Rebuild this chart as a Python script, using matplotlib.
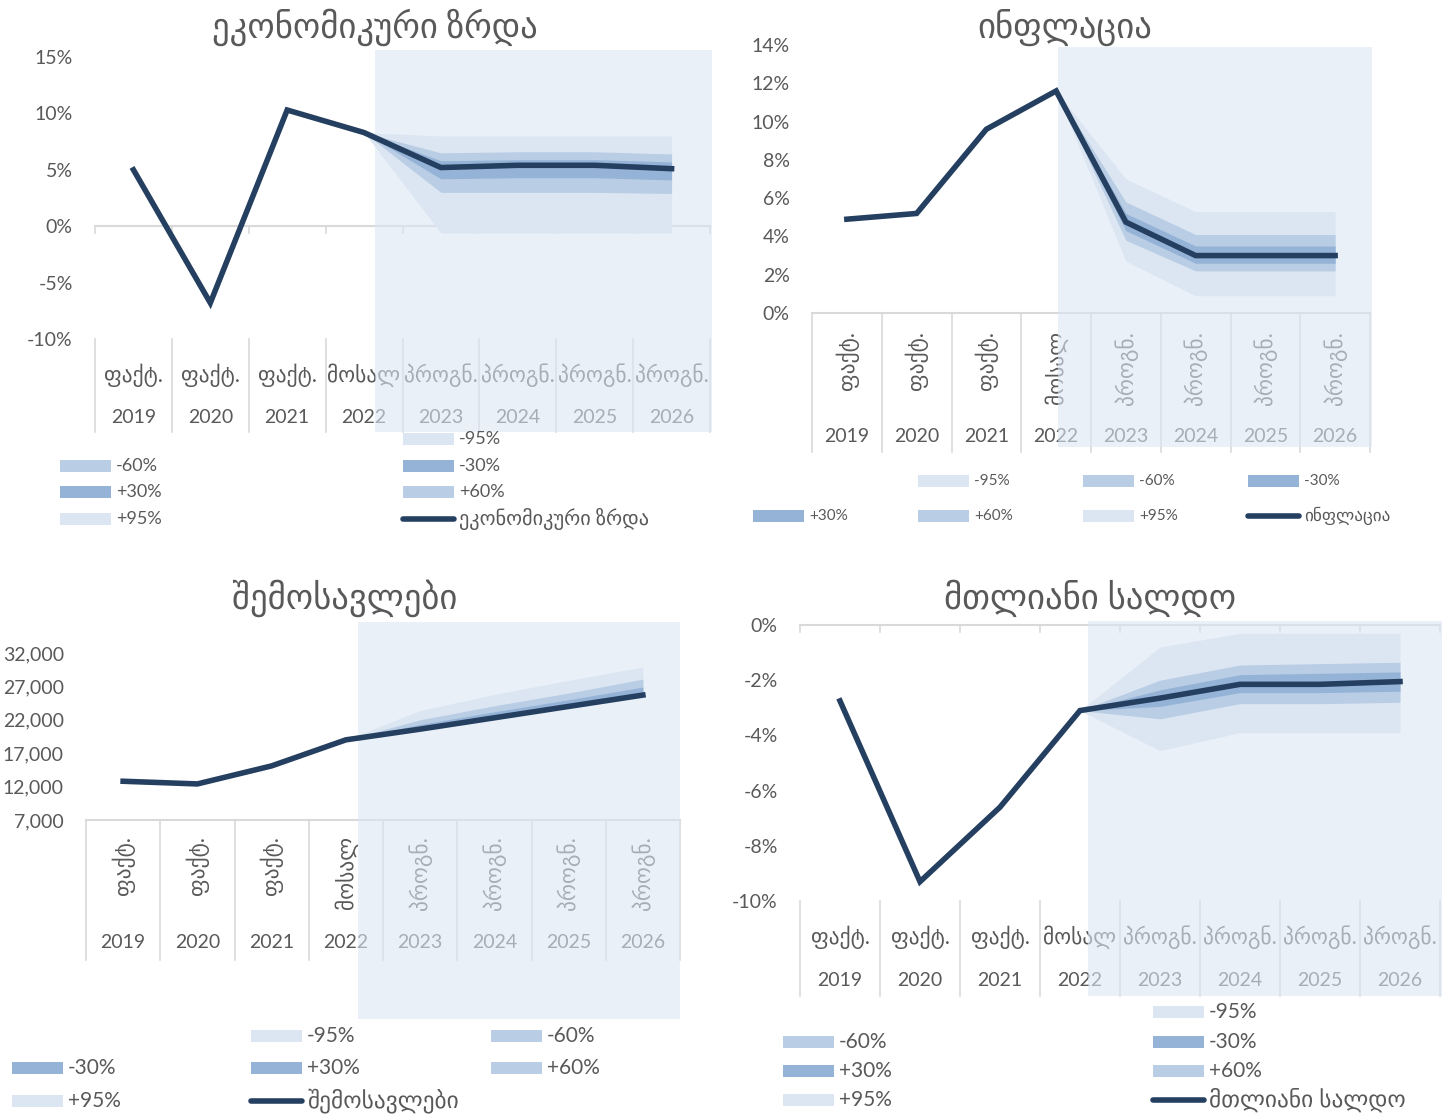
import matplotlib
matplotlib.use("Agg")
import matplotlib.pyplot as plt
import matplotlib.transforms as mtransforms
from matplotlib.patches import Rectangle
from matplotlib.lines import Line2D
from matplotlib.ticker import FuncFormatter

plt.rcParams['font.family'] = ['Lato', 'DejaVu Sans']

W, H = 1449, 1117
NAVY = '#243F60'
GREY = '#595959'
GRID = '#D9D9D9'
C95, C60, C30 = '#DCE6F2', '#B9CDE5', '#95B3D7'

years = ['2019', '2020', '2021', '2022', '2023', '2024', '2025', '2026']
stage = ['ფაქტ.', 'ფაქტ.', 'ფაქტ.', 'მოსალ', 'პროგნ.', 'პროგნ.', 'პროგნ.', 'პროგნ.']
fc_idx = [3, 4, 5, 6, 7]   # 2022..2026 carry the fan

# economic growth, %
growth = [5.0, -6.8, 10.3, 8.3, 5.2, 5.4, 5.4, 5.1]
growth_hi95 = [8.3, 8.0, 8.0, 8.0, 8.0]
growth_hi60 = [8.3, 6.5, 6.6, 6.6, 6.4]
growth_hi30 = [8.3, 5.8, 5.9, 5.9, 5.7]
growth_lo30 = [8.3, 4.2, 4.3, 4.3, 4.1]
growth_lo60 = [8.3, 3.0, 3.0, 3.0, 2.9]
growth_lo95 = [8.3, -0.6, -0.6, -0.6, -0.6]

# inflation, %
infl = [4.9, 5.2, 9.6, 11.6, 4.75, 3.0, 3.0, 3.0]
infl_hi95 = [11.6, 7.0, 5.3, 5.3, 5.3]
infl_hi60 = [11.6, 5.8, 4.1, 4.1, 4.1]
infl_hi30 = [11.6, 5.2, 3.5, 3.5, 3.5]
infl_lo30 = [11.6, 4.3, 2.6, 2.6, 2.6]
infl_lo60 = [11.6, 3.8, 2.2, 2.2, 2.2]
infl_lo95 = [11.6, 2.7, 0.9, 0.9, 0.9]

# revenues, mln GEL
rev = [12800, 12400, 15100, 19000, 20600, 22300, 24000, 25700]
rev_hi95 = [19000, 23400, 25800, 27900, 29900]
rev_hi60 = [19000, 22000, 24100, 26000, 28100]
rev_hi30 = [19000, 21300, 23200, 25000, 26900]
rev_lo30 = [19000, 20600, 22300, 24000, 25700]
rev_lo60 = [19000, 20600, 22300, 24000, 25700]
rev_lo95 = [19000, 20600, 22300, 24000, 25700]

# overall balance, % of GDP
bal = [-2.75, -9.3, -6.6, -3.1, -2.65, -2.15, -2.15, -2.05]
bal_hi95 = [-3.1, -0.8, -0.3, -0.3, -0.3]
bal_hi60 = [-3.1, -2.0, -1.45, -1.4, -1.35]
bal_hi30 = [-3.1, -2.35, -1.8, -1.75, -1.7]
bal_lo30 = [-3.1, -2.95, -2.45, -2.45, -2.4]
bal_lo60 = [-3.1, -3.4, -2.85, -2.85, -2.8]
bal_lo95 = [-3.1, -4.55, -3.9, -3.9, -3.9]

fig = plt.figure(figsize=(W / 100, H / 100), dpi=100)


def fx(x):
    return x / W


def fy(y):
    return 1 - y / H


def px_axes(x0, y0, x1, y1):
    ax = fig.add_axes([fx(x0), fy(y1), (x1 - x0) / W, (y1 - y0) / H])
    ax.patch.set_visible(False)
    for s in ax.spines.values():
        s.set_visible(False)
    ax.set_xlim(-0.5, len(years) - 0.5)
    ax.set_xticks([])
    ax.tick_params(axis='y', length=0, pad=16, labelsize=14, labelcolor=GREY)
    return ax


def panel(ax, vals, fan, ylim, yticks, fmt, title, title_xy, shade, cat, zero=None):
    bt = mtransforms.blended_transform_factory(ax.transData, fig.transFigure)
    ax.set_ylim(*ylim)
    ax.set_yticks(yticks)
    ax.yaxis.set_major_formatter(FuncFormatter(fmt))
    fig.text(fx(title_xy[0]), fy(title_xy[1]), title, ha='center', va='center',
             fontsize=25, color=GREY)

    # category axis: separators, labels (under the shade)
    top, bottom, rotated, lab_y, year_y = cat
    n = len(years)
    for k in range(n + 1):
        ax.add_line(Line2D([k - 0.5, k - 0.5], [fy(top), fy(bottom)], transform=bt,
                           color=GRID, lw=1.2, clip_on=False, zorder=1))
    for k in range(n):
        if rotated:
            ax.text(k, fy(lab_y), stage[k], transform=bt, rotation=90, ha='center',
                    va='top', fontsize=15.5, color=GREY, zorder=1, clip_on=False)
        else:
            ax.text(k, fy(lab_y), stage[k], transform=bt, ha='center', va='center',
                    fontsize=15.5, color=GREY, zorder=1, clip_on=False)
        ax.text(k, fy(year_y), years[k], transform=bt, ha='center', va='center',
                fontsize=14, color=GREY, zorder=1, clip_on=False)

    # zero line with small downward ticks
    if zero is not None:
        ax.axhline(zero, color=GRID, lw=1.5, zorder=1, clip_on=False)
        zt = ax.transData.transform((0, zero))[1] / fig.dpi / fig.get_figheight()
        for k in range(n + 1):
            ax.add_line(Line2D([k - 0.5, k - 0.5], [zt, zt - 7 / H], transform=bt,
                               color=GRID, lw=1.2, clip_on=False, zorder=1))
    else:
        ax.axhline(ylim[0], color=GRID, lw=1.5, zorder=1, clip_on=False)

    # forecast shading
    x0, y0, x1, y1 = shade
    ax.add_patch(Rectangle((fx(x0), fy(y1)), (x1 - x0) / W, (y1 - y0) / H,
                           transform=fig.transFigure, facecolor='#DBE6F4', alpha=0.6,
                           edgecolor='none', zorder=2, clip_on=False))

    lo95, lo60, lo30, hi30, hi60, hi95 = fan
    ax.fill_between(fc_idx, lo95, hi95, color=C95, lw=0, zorder=3)
    ax.fill_between(fc_idx, lo60, hi60, color=C60, lw=0, zorder=3)
    ax.fill_between(fc_idx, lo30, hi30, color=C30, lw=0, zorder=3)
    ax.plot(range(n), vals, color=NAVY, lw=4, zorder=4, solid_joinstyle='miter')


def legend(items, fs):
    for x, y, kind, label in items:
        size = fs
        if kind == 'line':
            fig.add_artist(Line2D([fx(x), fx(x + 51)], [fy(y), fy(y)], color=NAVY, lw=4,
                                  solid_capstyle='round', transform=fig.transFigure))
            size = fs * 1.12
        else:
            fig.add_artist(Rectangle((fx(x), fy(y + 6)), 51 / W, 12 / H, facecolor=kind,
                                     edgecolor='none', transform=fig.transFigure))
        fig.text(fx(x + 56), fy(y), label, ha='left', va='center', fontsize=size, color=GREY)


pct = lambda v, p: f'{v:.0f}%'
thou = lambda v, p: f'{v:,.0f}'

# --- economic growth
ax1 = px_axes(95, 57, 710, 339)
panel(ax1, growth, (growth_lo95, growth_lo60, growth_lo30, growth_hi30, growth_hi60, growth_hi95),
      (-10, 15), [-10, -5, 0, 5, 10, 15], pct, 'ეკონომიკური ზრდა', (375, 27),
      (375, 50, 712, 432), (339, 432, False, 375, 418), zero=0)
legend([(403, 439, C95, '-95%'), (60, 466, C60, '-60%'), (403, 466, C30, '-30%'),
        (60, 492, C30, '+30%'), (403, 492, C60, '+60%'), (60, 519, C95, '+95%'),
        (403, 519, 'line', 'ეკონომიკური ზრდა')], 13)

# --- inflation
ax2 = px_axes(812, 45, 1370, 313)
panel(ax2, infl, (infl_lo95, infl_lo60, infl_lo30, infl_hi30, infl_hi60, infl_hi95),
      (0, 14), list(range(0, 15, 2)), pct, 'ინფლაცია', (1065, 27),
      (1058, 47, 1372, 447), (313, 452, True, 331, 436))
legend([(918, 481, C95, '-95%'), (1083, 481, C60, '-60%'), (1248, 481, C30, '-30%'),
        (753, 516, C30, '+30%'), (918, 516, C60, '+60%'), (1083, 516, C95, '+95%'),
        (1248, 516, 'line', 'ინფლაცია')], 11)

# --- revenues
ax3 = px_axes(86, 653, 680, 820)
panel(ax3, rev, (rev_lo95, rev_lo60, rev_lo30, rev_hi30, rev_hi60, rev_hi95),
      (7000, 32000), list(range(7000, 32001, 5000)), thou, 'შემოსავლები', (345, 598),
      (358, 622, 680, 1019), (820, 960, True, 836, 943))
legend([(251, 1036, C95, '-95%'), (491, 1036, C60, '-60%'), (12, 1068, C30, '-30%'),
        (251, 1068, C30, '+30%'), (491, 1068, C60, '+60%'), (12, 1101, C95, '+95%'),
        (251, 1101, 'line', 'შემოსავლები')], 15)

# --- overall balance
ax4 = px_axes(800, 625, 1440, 901)
panel(ax4, bal, (bal_lo95, bal_lo60, bal_lo30, bal_hi30, bal_hi60, bal_hi95),
      (-10, 0), list(range(-10, 1, 2)), pct, 'მთლიანი სალდო', (1090, 598),
      (1088, 621, 1442, 996), (901, 996, False, 937, 981), zero=0)
legend([(1153, 1012, C95, '-95%'), (783, 1042, C60, '-60%'), (1153, 1042, C30, '-30%'),
        (783, 1071, C30, '+30%'), (1153, 1071, C60, '+60%'), (783, 1100, C95, '+95%'),
        (1153, 1100, 'line', 'მთლიანი სალდო')], 15)

fig.savefig('out.png', dpi=100)
